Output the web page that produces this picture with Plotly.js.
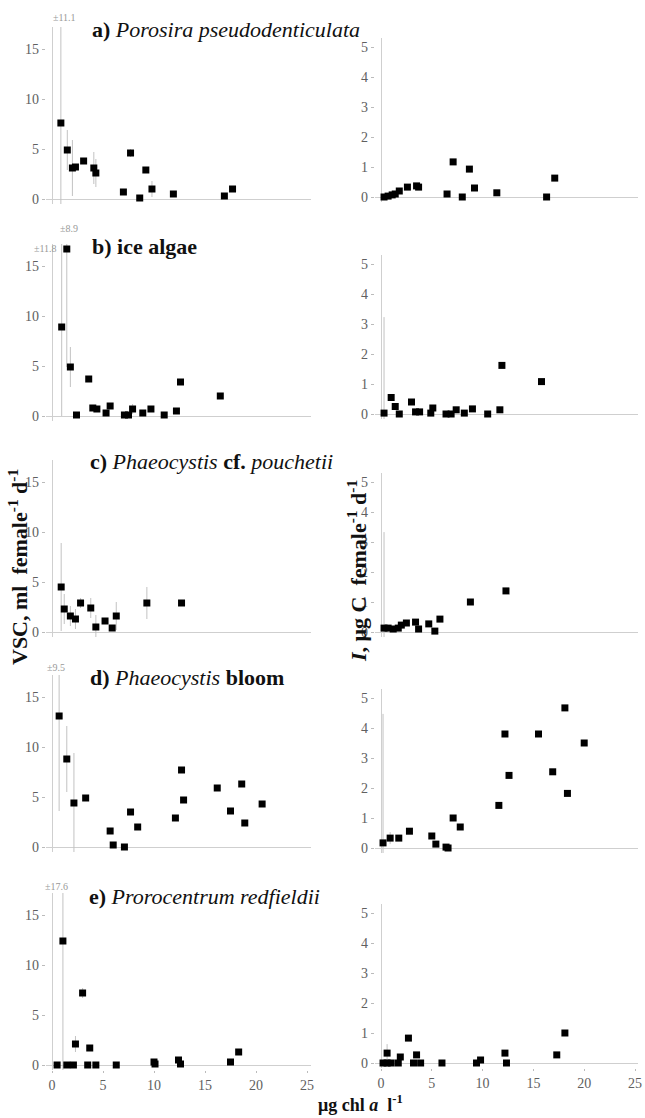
<!DOCTYPE html>
<html>
<head>
<meta charset="utf-8">
<script src="https://cdn.plot.ly/plotly-3.0.1.min.js"></script>
<style>html,body{margin:0;padding:0;background:#fff;}#chart{width:645px;height:1118px;}</style>
</head>
<body>
<div id="chart"></div>
<script>
// ---------- data ----------
const xTicks = [0, 5, 10, 15, 20, 25];
const leftYTicks = [0, 5, 10, 15];
const rightYTicks = [0, 1, 2, 3, 4, 5];

const panelTitles = [
  "<b>a) </b><i>Porosira pseudodenticulata</i>",
  "<b>b) ice algae</b>",
  "<b>c) </b><i>Phaeocystis</i><b> cf. </b><i>pouchetii</i>",
  "<b>d) </b><i>Phaeocystis</i><b> bloom</b>",
  "<b>e) </b><i>Prorocentrum redfieldii</i>"
];
const errorLabels = ["±11.1", "±8.9", "±11.8", "±9.5", "±17.6"];

// a) Porosira pseudodenticulata
const aLx = [0.87, 1.5, 2.0, 2.3, 3.1, 4.1, 4.3, 7.0, 7.7, 8.6, 9.2, 9.8, 11.9, 16.9, 17.7];
const aLy = [7.6, 4.9, 3.1, 3.2, 3.8, 3.1, 2.6, 0.7, 4.6, 0.1, 2.9, 1.0, 0.5, 0.3, 1.0];
const aLe = [11.1, 2.0, 2.8, 0, 0, 1.6, 1.4, 0, 0.4, 0, 0, 0.8, 0, 0, 0];
const aRx = [0.3, 0.7, 1.1, 1.4, 1.8, 2.6, 3.5, 3.7, 6.5, 7.1, 8.0, 8.7, 9.2, 11.4, 16.3, 17.1];
const aRy = [0.0, 0.03, 0.07, 0.1, 0.2, 0.33, 0.37, 0.33, 0.1, 1.17, 0.0, 0.93, 0.3, 0.14, 0.0, 0.63];
const aRe = [0, 0, 0, 0, 0, 0, 0, 0, 0, 0, 0, 0, 0, 0, 0, 0];

// b) ice algae
const bLx = [0.95, 1.45, 1.8, 2.4, 3.6, 4.0, 4.4, 5.3, 5.7, 7.1, 7.5, 7.9, 8.9, 9.7, 11.0, 12.2, 12.6, 16.5];
const bLy = [8.9, 16.7, 4.9, 0.1, 3.7, 0.8, 0.7, 0.3, 1.0, 0.1, 0.1, 0.7, 0.3, 0.7, 0.1, 0.5, 3.4, 2.0];
const bLe = [8.9, 11.8, 2.0, 0, 0, 0, 0, 0, 0, 0, 0, 0.5, 0, 0, 0, 0, 0, 0];
const bRx = [0.3, 1.0, 1.4, 1.8, 3.0, 3.4, 3.8, 4.9, 5.1, 6.4, 6.9, 7.4, 8.2, 9.0, 10.5, 11.7, 11.9, 15.8];
const bRy = [0.03, 0.55, 0.25, 0.0, 0.4, 0.07, 0.07, 0.03, 0.2, 0.0, 0.0, 0.14, 0.03, 0.17, 0.0, 0.14, 1.62, 1.08];
const bRe = [3.2, 0, 0, 0, 0, 0, 0, 0, 0, 0, 0, 0, 0, 0, 0, 0, 0, 0];

// c) Phaeocystis cf. pouchetii
const cLx = [0.9, 1.2, 1.8, 2.3, 2.8, 3.8, 4.3, 5.2, 5.9, 6.3, 9.3, 12.7];
const cLy = [4.5, 2.3, 1.6, 1.3, 2.9, 2.4, 0.5, 1.1, 0.4, 1.6, 2.9, 2.9];
const cLe = [4.4, 1.5, 1.0, 1.0, 0.5, 1.0, 1.2, 0, 0, 1.4, 1.6, 0];
const cRx = [0.3, 0.7, 1.2, 1.7, 2.0, 2.5, 3.4, 3.7, 4.7, 5.3, 5.8, 8.8, 12.3];
const cRy = [0.13, 0.13, 0.1, 0.13, 0.23, 0.3, 0.33, 0.1, 0.27, 0.03, 0.43, 1.0, 1.37];
const cRe = [3.2, 0, 0, 0, 0, 0, 0, 0, 0, 0, 0, 0, 0];

// d) Phaeocystis bloom
const dLx = [0.7, 1.45, 2.15, 3.3, 5.7, 6.0, 7.1, 7.7, 8.4, 12.1, 12.7, 12.9, 16.2, 17.5, 18.6, 18.9, 20.6];
const dLy = [13.1, 8.8, 4.4, 4.9, 1.6, 0.2, 0.0, 3.5, 2.0, 2.9, 7.7, 4.7, 5.9, 3.6, 6.3, 2.4, 4.3];
const dLe = [9.5, 3.3, 5.0, 0, 0, 0, 0, 0, 0, 0, 0, 0, 0, 0, 0, 0, 0];
const dRx = [0.2, 0.9, 1.75, 2.8, 5.0, 5.4, 6.4, 6.6, 7.1, 7.8, 11.6, 12.2, 12.6, 15.5, 16.9, 18.1, 18.35, 20.0];
const dRy = [0.17, 0.33, 0.33, 0.56, 0.4, 0.13, 0.03, 0.0, 1.0, 0.7, 1.42, 3.8, 2.42, 3.8, 2.54, 4.67, 1.82, 3.5];
const dRe = [4.3, 0.2, 0, 0, 0, 0, 0, 0, 0, 0, 0, 0, 0, 0, 0, 0, 0, 0];

// e) Prorocentrum redfieldii
const eLx = [0.5, 1.07, 1.45, 2.1, 2.3, 3.0, 3.5, 3.7, 4.3, 6.3, 10.0, 10.1, 12.4, 12.6, 17.5, 18.3];
const eLy = [0, 12.4, 0, 0, 2.1, 7.2, 0, 1.7, 0, 0, 0.3, 0.1, 0.5, 0.1, 0.3, 1.3];
const eLe = [0, 17.6, 0, 0, 0.8, 0.5, 0, 0, 0, 0, 0, 0, 0, 0, 0, 0];
const eRx = [0.2, 0.6, 0.6, 1.0, 1.7, 1.9, 2.7, 3.2, 3.5, 3.9, 6.0, 9.4, 9.8, 12.2, 12.35, 17.3, 18.1];
const eRy = [0, 0, 0.33, 0, 0, 0.2, 0.83, 0, 0.27, 0, 0, 0, 0.1, 0.33, 0, 0.27, 1.0];
const eRe = [0, 0, 0.3, 0, 0, 0, 0, 0, 0, 0, 0, 0, 0, 0, 0, 0, 0];

const panels = [
  [aLx, aLy, aLe, aRx, aRy, aRe],
  [bLx, bLy, bLe, bRx, bRy, bRe],
  [cLx, cLy, cLe, cRx, cRy, cRe],
  [dLx, dLy, dLe, dRx, dRy, dRe],
  [eLx, eLy, eLe, eRx, eRy, eRe]
];

// ---------- layout geometry ----------
const W = 645, H = 1118;
const px = v => v / W;
const py = v => 1 - v / H;
const leftZero = [199, 416, 632, 847, 1065];
const rightZero = [197, 414, 632, 848, 1063];
const LYR = [-0.5, 17.2], LYS = 10;      // px per unit
const RYR = [-0.17, 5.3], RYS = 30;
const LXR = [-0.6, 25.4], LX0 = 52, LXS = 10.2;
const RXR = [-0.6, 25.3], RX0 = 381, RXS = 10.16;

const serif = "Liberation Serif, Times New Roman, serif";
const tickFont = {family: serif, size: 14, color: "#606060"};
const traces = [];
const layout = {
  width: W, height: H,
  margin: {l: 0, r: 0, t: 0, b: 0},
  paper_bgcolor: "#fff", plot_bgcolor: "rgba(0,0,0,0)",
  showlegend: false,
  annotations: []
};

function addAxes(idx, xr, x0, xs, yr, y0, ys, yticks, showX) {
  const xname = idx === 1 ? "xaxis" : "xaxis" + idx;
  const yname = idx === 1 ? "yaxis" : "yaxis" + idx;
  const xl = x0 + xr[0] * xs, xh = x0 + xr[1] * xs;
  const yb = y0 - yr[0] * ys, yt = y0 - yr[1] * ys;
  layout[xname] = {
    domain: [px(xl), Math.min(1, px(xh))], range: xr, anchor: "y" + idx,
    tickvals: xTicks, showticklabels: showX, ticks: showX ? "outside" : "",
    ticklen: 2, tickcolor: "#bbb", tickfont: tickFont, ticklabeloverflow: "allow",
    showgrid: false, showline: false, zeroline: true,
    zerolinecolor: "#cfcfcf", zerolinewidth: 1, fixedrange: true
  };
  layout[yname] = {
    domain: [py(yb), py(yt)], range: yr, anchor: "x" + idx,
    tickvals: yticks, ticks: "outside", ticklen: 3, tickcolor: "#bbb",
    tickfont: tickFont, showgrid: false, showline: false, zeroline: true,
    zerolinecolor: "#cfcfcf", zerolinewidth: 1, fixedrange: true
  };
}

panels.forEach((p, r) => {
  const iL = r * 2 + 1, iR = r * 2 + 2;
  const bottom = r === 4;
  addAxes(iL, LXR, LX0, LXS, LYR, leftZero[r], LYS, leftYTicks, bottom);
  addAxes(iR, RXR, RX0, RXS, RYR, rightZero[r], RYS, rightYTicks, bottom);
  [[p[0], p[1], p[2], iL], [p[3], p[4], p[5], iR]].forEach(([x, y, e, i]) => {
    traces.push({
      type: "scatter", mode: "markers", x: x, y: y,
      xaxis: "x" + i, yaxis: "y" + i,
      marker: {symbol: "square", size: 7, color: "#000"},
      error_y: {type: "data", array: e, visible: true, color: "#c2c2c2", thickness: 1, width: 0},
      hoverinfo: "x+y"
    });
  });
});

// panel titles
const titlePos = [[90, 30], [90, 246], [88, 461], [88, 677], [87, 896]];
panelTitles.forEach((t, i) => {
  layout.annotations.push({
    xref: "paper", yref: "paper", x: px(titlePos[i][0]), y: py(titlePos[i][1]),
    xanchor: "left", yanchor: "middle", text: t, showarrow: false,
    font: {family: serif, size: 22, color: "#111"}
  });
});

// error value labels
const errPos = [[64, 17], [69, 228], [45, 248], [56, 667], [56, 886]];
errorLabels.forEach((t, i) => {
  layout.annotations.push({
    xref: "paper", yref: "paper", x: px(errPos[i][0]), y: py(errPos[i][1]),
    xanchor: "center", yanchor: "middle", text: t, showarrow: false,
    font: {family: serif, size: 10, color: "#999"}
  });
});

// axis titles
layout.annotations.push({
  xref: "paper", yref: "paper", x: px(18), y: py(567), xanchor: "center", yanchor: "middle",
  textangle: -90, showarrow: false,
  text: "<b>VSC, ml  female<sup>-1</sup> d<sup>-1</sup></b>",
  font: {family: serif, size: 22, color: "#111"}
});
layout.annotations.push({
  xref: "paper", yref: "paper", x: px(357), y: py(571), xanchor: "center", yanchor: "middle",
  textangle: -90, showarrow: false,
  text: "<b><i>I</i>, μg C  female<sup>-1</sup> d<sup>-1</sup></b>",
  font: {family: serif, size: 22, color: "#111"}
});
layout.annotations.push({
  xref: "paper", yref: "paper", x: px(361), y: py(1103), xanchor: "center", yanchor: "middle",
  showarrow: false,
  text: "<b>μg chl <i>a</i>  l<sup>-1</sup></b>",
  font: {family: serif, size: 18, color: "#111"}
});

Plotly.newPlot("chart", traces, layout, {staticPlot: true, displayModeBar: false});
</script>
</body>
</html>
